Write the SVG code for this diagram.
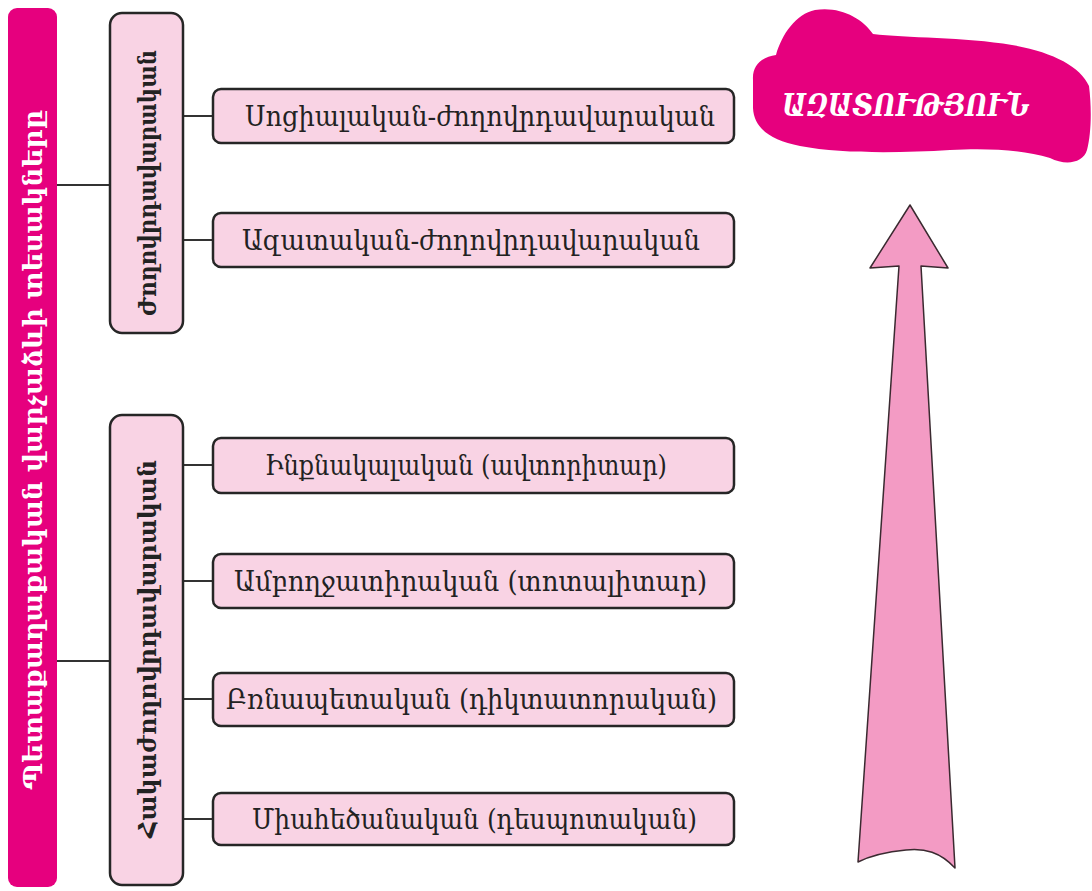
<svg xmlns="http://www.w3.org/2000/svg" width="1092" height="891" viewBox="0 0 1092 891">
<style>
.box{fill:#F9D3E4;stroke:#262626;stroke-width:2.5}
.conn{stroke:#333;stroke-width:2;fill:none}
.t{font-family:"DejaVu Serif","Noto Sans",serif;font-size:28px;fill:#222}
.vt{font-family:"DejaVu Serif","Noto Sans",serif;font-size:25px;font-weight:bold;fill:#222;text-anchor:middle}
.wt{font-family:"DejaVu Serif","Noto Sans",serif;font-weight:bold;fill:#ffffff}
</style>
<rect width="1092" height="891" fill="#ffffff"/>
<g id="connectors">
<path class="conn" d="M57 185H110M57 661H110"/>
<path class="conn" d="M183 116H213M183 240H213"/>
<path class="conn" d="M183 465H213M183 581H213M183 699H213M183 819H213"/>
</g>
<g id="title">
<rect x="8" y="8" width="49" height="879" rx="9" fill="#E6007E"/>
<text class="wt" font-size="26" text-anchor="middle" transform="translate(42 450) rotate(-90)" textLength="680" lengthAdjust="spacingAndGlyphs">Պետաքաղաքական վարչաձևի տեսակները</text>
</g>
<g id="democratic">
<rect class="box" x="110" y="13" width="73" height="320" rx="12"/>
<text class="vt" transform="translate(156 183) rotate(-90)" textLength="266" lengthAdjust="spacingAndGlyphs">Ժողովրդավարական</text>
</g>
<g id="antidemocratic">
<rect class="box" x="110" y="415" width="73" height="470" rx="12"/>
<text class="vt" transform="translate(156 649) rotate(-90)" textLength="378" lengthAdjust="spacingAndGlyphs">Հակաժողովրդավարական</text>
</g>
<g id="n1">
<rect class="box" x="213" y="89" width="521" height="54" rx="8"/>
<text class="t" x="245" y="126" textLength="470" lengthAdjust="spacingAndGlyphs">Սոցիալական-ժողովրդավարական</text>
</g>
<g id="n2">
<rect class="box" x="213" y="213" width="521" height="54" rx="8"/>
<text class="t" x="242" y="250" textLength="458" lengthAdjust="spacingAndGlyphs">Ազատական-ժողովրդավարական</text>
</g>
<g id="n3">
<rect class="box" x="213" y="438" width="521" height="55" rx="8"/>
<text class="t" x="265" y="475" textLength="402" lengthAdjust="spacingAndGlyphs">Ինքնակալական (ավտորիտար)</text>
</g>
<g id="n4">
<rect class="box" x="213" y="554" width="521" height="54" rx="8"/>
<text class="t" x="234" y="591" textLength="473" lengthAdjust="spacingAndGlyphs">Ամբողջատիրական (տոտալիտար)</text>
</g>
<g id="n5">
<rect class="box" x="213" y="673" width="521" height="53" rx="8"/>
<text class="t" x="226" y="709" textLength="491" lengthAdjust="spacingAndGlyphs">Բռնապետական (դիկտատորական)</text>
</g>
<g id="n6">
<rect class="box" x="213" y="793" width="521" height="52" rx="8"/>
<text class="t" x="252" y="829" textLength="445" lengthAdjust="spacingAndGlyphs">Միահեծանական (դեսպոտական)</text>
</g>
<g id="freedom">
<path fill="#E6007E" d="M753 80C752 64 763 57 776 55C782 34 796 14 815 10C840 6 862 18 873 34C905 38 965 37 1012 45C1052 52 1080 66 1089 86C1092 110 1091 135 1087 150C1083 163 1066 166 1050 158C1022 150 990 148 950 150C900 153 842 154 800 146C770 140 754 128 753 108Z"/>
<text class="wt" font-size="32" font-style="italic" x="782" y="116" textLength="248" lengthAdjust="spacingAndGlyphs">ԱԶԱՏՈՒԹՅՈՒՆ</text>
</g>
<g id="arrow">
<path fill="#F39BC4" stroke="#3a2a30" stroke-width="1.5" stroke-linejoin="round" d="M910 205L948 268L921 266L955 868C940 852 925 848 906 850C885 852 870 856 858 862L899 266L870 268Z"/>
</g>
</svg>
